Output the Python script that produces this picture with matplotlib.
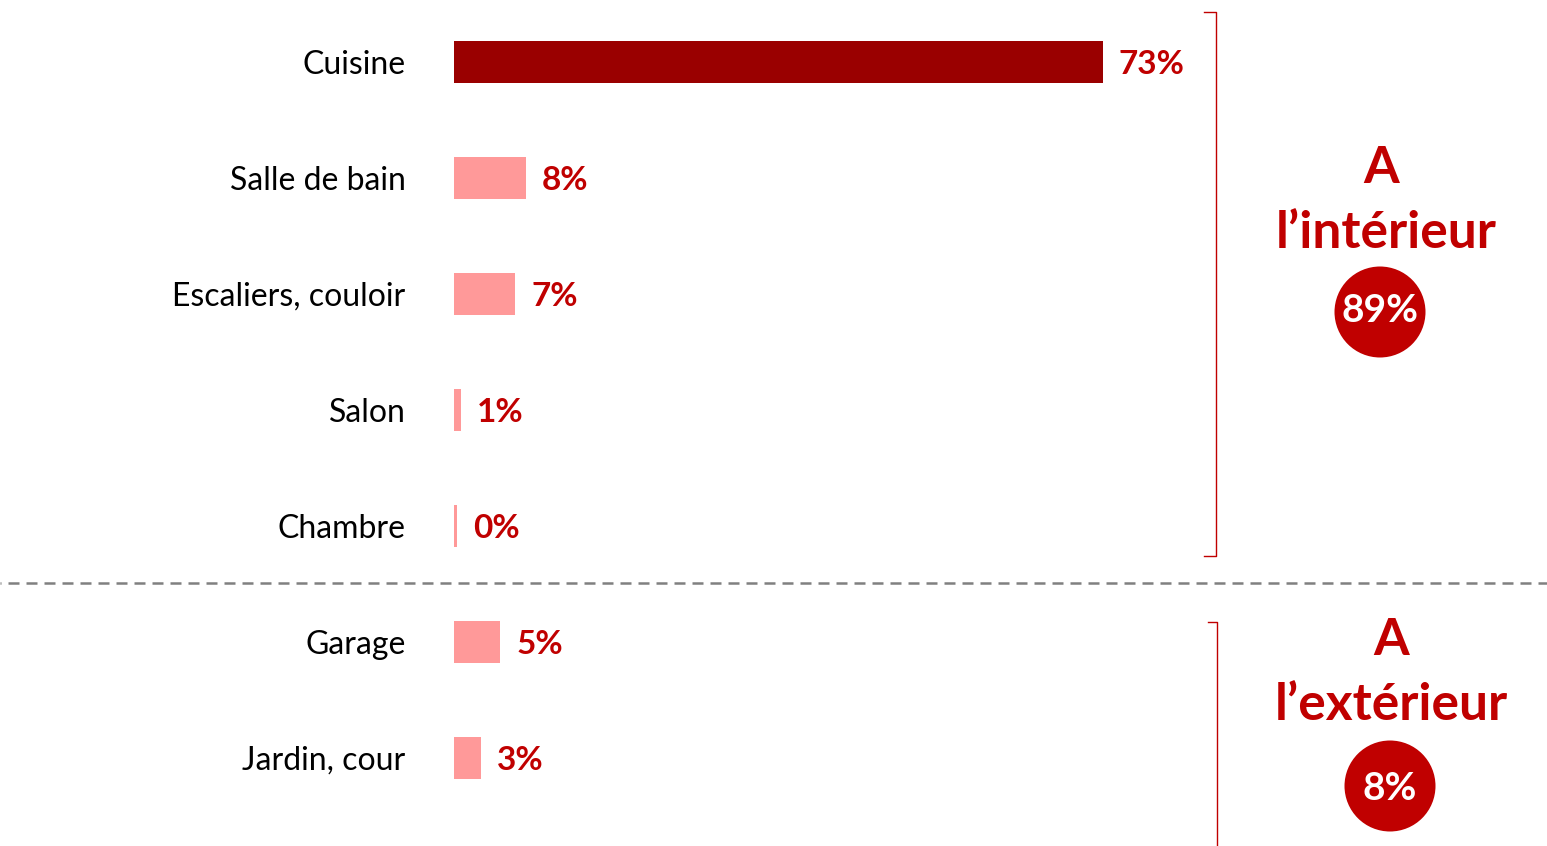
import matplotlib
matplotlib.use("Agg")
import matplotlib.pyplot as plt
from matplotlib.lines import Line2D
from matplotlib.patches import Ellipse

categories = ["Cuisine", "Salle de bain", "Escaliers, couloir", "Salon", "Chambre", "Garage", "Jardin, cour"]
values = [73.1, 8.1, 6.9, 0.8, 0.3, 5.2, 3.0]
value_labels = ["73%", "8%", "7%", "1%", "0%", "5%", "3%"]
groups = [["A", "l\u2019int\u00e9rieur"], ["A", "l\u2019ext\u00e9rieur"]]
group_totals = ["89%", "8%"]

FONT = ["Lato", "DejaVu Sans"]
plt.rcParams["font.family"] = FONT

W, H = 1547, 846
fig = plt.figure(figsize=(W / 100, H / 100), dpi=100)
fig.patch.set_facecolor("white")

x0 = 454
scale = 649 / 73.1  # px per percent
ax = fig.add_axes([x0 / W, 0, 1 - x0 / W, 1])
ax.set_xlim(0, (W - x0) / scale)
row_px = 116
top_px = 62
ax.set_ylim((H - top_px) / row_px, -top_px / row_px)

ypos = list(range(len(categories)))
colors = ["#9A0000"] + ["#FF9999"] * (len(categories) - 1)
ax.barh(ypos, values, height=42 / row_px, color=colors, linewidth=0)

gap = 16 / scale
for y, v, lab in zip(ypos, values, value_labels):
    ax.text(v + gap, y, lab, va="center_baseline", ha="left", color="#C00000",
            fontsize=24, fontweight="bold")

ax.set_yticks(ypos)
ax.set_yticklabels(categories, fontsize=23, color="black")
ax.tick_params(axis="y", length=0, pad=35)
ax.tick_params(axis="x", bottom=False, labelbottom=False)
for s in ax.spines.values():
    s.set_visible(False)

def fx(x):
    return x / W

def fy(y):
    return 1 - y / H

# dashed separator
fig.add_artist(Line2D([0, 1], [fy(583), fy(583)], transform=fig.transFigure,
                      color="#808080", lw=1.8, linestyle=(4.0, (4.4, 2.8))))

red = "#C00000"
# brackets
fig.add_artist(Line2D([fx(1204), fx(1216), fx(1216), fx(1204)],
                      [fy(12), fy(12), fy(556), fy(556)],
                      transform=fig.transFigure, color=red, lw=1.0))
fig.add_artist(Line2D([fx(1208), fx(1217), fx(1217)],
                      [fy(622), fy(622), fy(850)],
                      transform=fig.transFigure, color=red, lw=1.0))

# group annotations
line_baselines = [[183, 248], [655, 720]]
line_x = [[1381, 1386], [1391, 1391]]
circle_x = [1380, 1390]
circle_y = [312, 786]
total_baseline = [322, 800]
for g, t, lx, bl, cx, cy, tb in zip(groups, group_totals, line_x, line_baselines,
                                     circle_x, circle_y, total_baseline):
    for line, x, b in zip(g, lx, bl):
        fig.text(fx(x), fy(b), line, ha="center", va="baseline", color=red,
                 fontsize=37, fontweight="bold")
    fig.add_artist(Ellipse((fx(cx), fy(cy)), width=91 / W, height=91 / H,
                           transform=fig.transFigure, color=red, lw=0))
    fig.text(fx(cx), fy(tb), t, ha="center", va="baseline", color="white",
             fontsize=28, fontweight="bold")

fig.savefig("out.png", dpi=100)
